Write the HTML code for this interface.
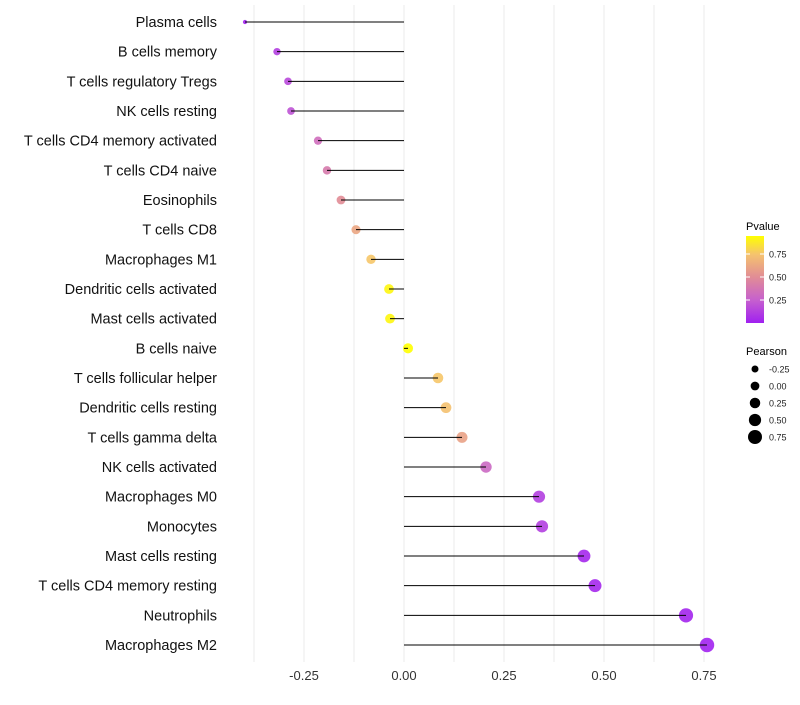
<!DOCTYPE html>
<html><head><meta charset="utf-8"><style>
body{margin:0;background:#fff;font-family:"Liberation Sans",sans-serif;}
</style></head><body>
<svg id="chart" width="800" height="700" xmlns="http://www.w3.org/2000/svg">
<g id="grid"></g>
<g id="marks"></g>
<g id="ylab"></g>
<g id="xlab"></g>
<g id="legend"></g>
</svg>
<script>
const cells=["Plasma cells","B cells memory","T cells regulatory  Tregs ","NK cells resting","T cells CD4 memory activated","T cells CD4 naive","Eosinophils","T cells CD8","Macrophages M1","Dendritic cells activated","Mast cells activated","B cells naive","T cells follicular helper","Dendritic cells resting","T cells gamma delta","NK cells activated","Macrophages M0","Monocytes","Mast cells resting","T cells CD4 memory resting","Neutrophils","Macrophages M2"];
const pearson=[-0.3975,-0.3175,-0.29,-0.2825,-0.215,-0.1925,-0.1575,-0.12,-0.0825,-0.0375,-0.035,0.01,0.085,0.105,0.145,0.205,0.3375,0.345,0.45,0.4775,0.705,0.7575];
const pvalue=[0.01,0.12,0.16,0.2,0.33,0.4,0.5,0.62,0.76,0.92,0.92,0.97,0.76,0.74,0.6,0.3,0.12,0.12,0.03,0.03,0.02,0.01];
const xTicks=[-0.25,0,0.25,0.5,0.75];
const xTickLabels=["-0.25","0.00","0.25","0.50","0.75"];
const sizeTicks=[-0.25,0,0.25,0.5,0.75];
const sizeTickLabels=["-0.25","0.00","0.25","0.50","0.75"];
const pTicks=[0.25,0.5,0.75];
const pTickLabels=["0.25","0.50","0.75"];

const NS="http://www.w3.org/2000/svg";
const X=v=>404+v*400;
const Y=i=>22+i*29.667;
const R=v=>Math.sqrt(Math.max(3,25+v*36))*(v<-0.35?0.65:1);
const stops=[[0,[160,32,240]],[0.25,[198,96,206]],[0.5,[225,140,150]],[0.75,[245,195,110]],[0.95,[255,255,0]]];
function col(p){p=Math.max(0,Math.min(0.95,p));for(let k=1;k<stops.length;k++){if(p<=stops[k][0]){const a=stops[k-1],b=stops[k],t=(p-a[0])/(b[0]-a[0]);return "rgb("+a[1].map((c,j)=>Math.round(c+(b[1][j]-c)*t)).join(",")+")";}}return "rgb(255,255,0)";}
function mk(tag,attrs,parent){const e=document.createElementNS(NS,tag);for(const k in attrs)e.setAttribute(k,attrs[k]);parent.appendChild(e);return e;}
const grid=document.getElementById('grid'),marks=document.getElementById('marks'),ylab=document.getElementById('ylab'),xlab=document.getElementById('xlab'),leg=document.getElementById('legend');
for(let v=-0.375;v<=0.76;v+=0.125){const g=mk('line',{x1:X(v),x2:X(v),y1:5,y2:662,stroke:'#ebebeb','stroke-width':1},grid);

}
cells.forEach((c,i)=>{
 const cy=Y(i);
 const pt=mk('circle',{cx:X(pearson[i]),cy:cy,r:R(pearson[i]),fill:col(pvalue[i]),'fill-opacity':0.9},marks);
 
 
 const ln=mk('line',{x1:X(0),x2:X(pearson[i]),y1:cy,y2:cy,stroke:'#000','stroke-width':1},marks);
 
 
 const t=mk('text',{x:217,y:cy+5,'text-anchor':'end','font-size':14.5,fill:'#111'},ylab);t.textContent=c;
 
 
});
xTicks.forEach((v,i)=>{const t=mk('text',{x:X(v),y:680,'text-anchor':'middle','font-size':13,fill:'#333'},xlab);t.textContent=xTickLabels[i];

});
let tt=mk('text',{x:746,y:230,'font-size':11,fill:'#000'},leg);tt.textContent="Pvalue";


const defs=mk('defs',{},leg);const gr=mk('linearGradient',{id:'pg',x1:0,y1:1,x2:0,y2:0},defs);
stops.forEach(s=>mk('stop',{offset:(s[0]/0.95),'stop-color':col(s[0])},gr));
const cb=mk('rect',{x:746,y:236,width:18,height:87,fill:'url(#pg)'},leg);


const PY=p=>323-p*92;
pTicks.forEach((p,i)=>{mk('line',{x1:746,x2:750,y1:PY(p),y2:PY(p),stroke:'#fff'},leg);mk('line',{x1:760,x2:764,y1:PY(p),y2:PY(p),stroke:'#fff'},leg);
const t=mk('text',{x:769,y:PY(p)+3.5,'font-size':9,fill:'#222'},leg);t.textContent=pTickLabels[i];

});
tt=mk('text',{x:746,y:355,'font-size':11,fill:'#000'},leg);tt.textContent="Pearson";


sizeTicks.forEach((v,i)=>{const y=369+i*17;const c=mk('circle',{cx:755,cy:y,r:3.5+(v+0.25)*3.5,fill:'#000'},leg);


const t=mk('text',{x:769,y:y+3.5,'font-size':9,fill:'#222'},leg);t.textContent=sizeTickLabels[i];

});
</script>
</body></html>
